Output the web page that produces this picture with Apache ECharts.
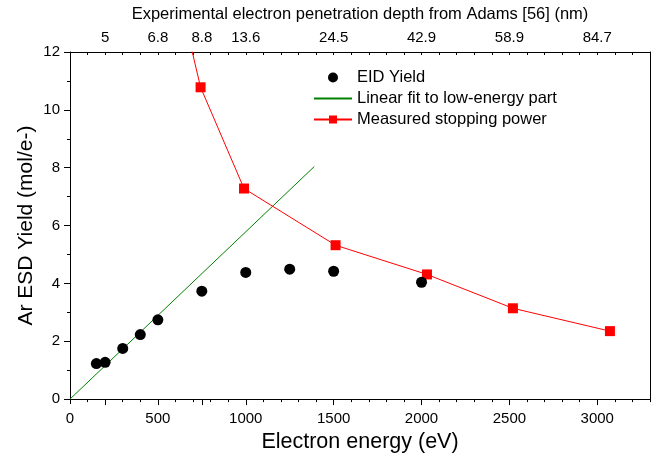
<!DOCTYPE html>
<html>
<head>
<meta charset="utf-8">
<script src="https://cdn.jsdelivr.net/npm/echarts@6/dist/echarts.min.js"></script>
<style>html,body{margin:0;padding:0;background:#fff}#chart{width:669px;height:458px}</style>
</head>
<body>
<div id="chart"></div>
<script>
// EID yield points (eV, mol/e-)
const eidEnergy = [150, 200, 300, 400, 500, 750, 1000, 1250, 1500, 2000]
const eidYield = [1.23, 1.27, 1.75, 2.23, 2.74, 3.73, 4.38, 4.49, 4.42, 4.04]
// linear fit, two ends
const fitEnergy = [0, 1390]
const fitYield = [0, 8.04]
// stopping power (first point is off the top of the plot)
const spEnergy = [500, 743, 990, 1511, 2031, 2520, 3072]
const spValue = [17.05, 10.78, 7.28, 5.32, 4.31, 3.14, 2.35]
// axes
const bottomLabels = [0, 500, 1000, 1500, 2000, 2500, 3000]
const topTickEnergy = [200, 500, 750, 1000, 1500, 2000, 2500, 3000]
const topTickLabels = ['5', '6.8', '8.8', '13.6', '24.5', '42.9', '58.9', '84.7']

const font = 'Arial, "Liberation Sans", sans-serif'
const black = '#000'
const zip = (a, b) => a.map((v, i) => [v, b[i]])

const chart = echarts.init(document.getElementById('chart'))
const line = { show: true, onZero: false, lineStyle: { color: black, width: 1 } }

chart.setOption({
    animation: false,
    textStyle: { fontFamily: font, color: black },
    grid: { left: 70, right: 19, top: 52, bottom: 58 },
    legend: {
        orient: 'vertical',
        left: 313,
        top: 69,
        padding: 0,
        itemWidth: 38,
        itemHeight: 10,
        itemGap: 4,
        textStyle: { fontSize: 16.5, color: black, fontFamily: font },
        data: [
            'EID Yield',
            { name: 'Linear fit to low-energy part', itemStyle: { opacity: 0 } },
            'Measured stopping power'
        ]
    },
    xAxis: [
        {
            // bottom, minor ticks every 100
            type: 'value', position: 'bottom', min: 0, max: 3300, interval: 100,
            axisLine: line,
            axisTick: { show: true, length: 3, lineStyle: { color: black } },
            axisLabel: { customValues: bottomLabels, fontSize: 15, color: black, margin: 12, formatter: v => String(v) },
            splitLine: { show: false },
            name: 'Electron energy (eV)', nameLocation: 'middle', nameGap: 27,
            nameTextStyle: { fontSize: 21.5, color: black }
        },
        {
            // bottom major ticks
            type: 'value', position: 'bottom', min: 0, max: 3300,
            axisLine: { show: false },
            axisTick: { show: true, length: 5, customValues: bottomLabels, lineStyle: { color: black } },
            axisLabel: { show: false },
            splitLine: { show: false }
        },
        {
            // top minor ticks, inside
            type: 'value', position: 'top', min: 0, max: 3300, interval: 100,
            axisLine: line,
            axisTick: { show: true, inside: true, length: 3, lineStyle: { color: black } },
            axisLabel: { show: false },
            splitLine: { show: false }
        },
        {
            // top major ticks with penetration depth labels
            type: 'value', position: 'top', min: 0, max: 3300,
            axisLine: { show: false },
            axisTick: { show: true, inside: true, length: 6, customValues: topTickEnergy, lineStyle: { color: black } },
            axisLabel: {
                customValues: topTickEnergy, fontSize: 15, color: black, margin: 7,
                formatter: v => topTickLabels[topTickEnergy.indexOf(v)]
            },
            splitLine: { show: false },
            name: 'Experimental electron penetration depth from Adams [56] (nm)',
            nameLocation: 'middle', nameGap: 29,
            nameTextStyle: { fontSize: 16.5, color: black }
        }
    ],
    yAxis: [
        {
            type: 'value', position: 'left', min: 0, max: 12, interval: 2,
            axisLine: line,
            axisTick: { show: true, length: 6, lineStyle: { color: black } },
            minorTick: { show: true, splitNumber: 2, length: 3, lineStyle: { color: black } },
            axisLabel: { fontSize: 15, color: black, margin: 10 },
            splitLine: { show: false },
            name: 'Ar ESD Yield (mol/e-)', nameLocation: 'middle', nameGap: 33,
            nameMoveOverlap: false,
            nameTextStyle: { fontSize: 21, color: black }
        },
        {
            type: 'value', position: 'right', min: 0, max: 12,
            axisLine: line,
            axisTick: { show: false },
            axisLabel: { show: false },
            splitLine: { show: false }
        }
    ],
    series: [
        {
            name: 'Linear fit to low-energy part',
            type: 'line',
            data: zip(fitEnergy, fitYield),
            symbol: 'none',
            color: '#008000',
            lineStyle: { width: 1, color: '#008000' },
            z: 2
        },
        {
            name: 'Measured stopping power',
            type: 'line',
            data: zip(spEnergy, spValue),
            symbol: 'rect',
            symbolSize: 10,
            color: '#ff0000',
            itemStyle: { color: '#ff0000' },
            lineStyle: { width: 1, color: '#ff0000' },
            clip: true,
            z: 3
        },
        {
            name: 'EID Yield',
            type: 'scatter',
            data: zip(eidEnergy, eidYield),
            symbol: 'circle',
            symbolSize: 11,
            itemStyle: { color: black, opacity: 1 },
            z: 4
        }
    ]
})
</script>
</body>
</html>
